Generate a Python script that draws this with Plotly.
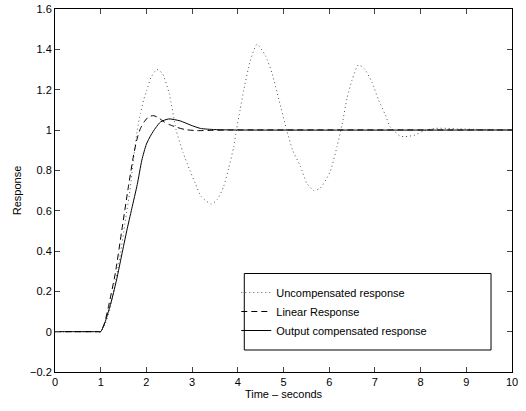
import plotly.graph_objects as go

# Uncompensated response (dotted)
t_unc = [0, 0.95, 1.0, 1.1, 1.2, 1.3, 1.42, 1.53, 1.64, 1.72, 1.8, 1.87, 1.94, 2.01, 2.1, 2.23,
         2.35, 2.5, 2.65, 2.8, 2.95, 3.07, 3.2, 3.42, 3.55, 3.69, 3.8, 3.91, 3.97, 4.05,
         4.13, 4.27, 4.42, 4.6, 4.75, 4.9, 5.07, 5.2, 5.37, 5.51, 5.66, 5.8, 6.02, 6.17,
         6.28, 6.39, 6.5, 6.64, 6.78, 6.93, 7.08, 7.23, 7.33, 7.41, 7.55, 7.66, 7.88,
         8.06, 8.32, 8.6, 8.8, 9.2, 9.6, 10.0]
y_unc = [0, 0, 0, 0.04, 0.11, 0.22, 0.37, 0.537, 0.70, 0.86, 1.0, 1.083, 1.15, 1.198, 1.26, 1.30,
         1.28, 1.18, 1.0, 0.89, 0.80, 0.736, 0.67, 0.633, 0.655, 0.72, 0.81, 0.917, 1.0, 1.1,
         1.198, 1.34, 1.425, 1.37, 1.28, 1.15, 1.0, 0.9, 0.82, 0.736, 0.70, 0.711, 0.793, 0.917,
         1.025, 1.157, 1.248, 1.323, 1.30, 1.24, 1.149, 1.074, 1.016, 0.997, 0.97, 0.967, 0.975,
         0.995, 1.008, 1.008, 1.006, 1.003, 1.001, 1.0]

# Linear response (dashed)
t_lin = [0, 0.95, 1.0, 1.08, 1.17, 1.32, 1.46, 1.6, 1.72, 1.8, 1.87, 1.95, 2.05, 2.16, 2.27,
         2.38, 2.5, 2.67, 2.85, 3.1, 3.4, 3.8, 10.0]
y_lin = [0, 0, 0, 0.04, 0.124, 0.29, 0.50, 0.71, 0.876, 0.96, 1.008, 1.04, 1.066, 1.071, 1.06,
         1.041, 1.027, 1.013, 1.002, 0.997, 0.998, 1.0, 1.0]

# Output compensated response (solid)
t_out = [0, 0.95, 1.0, 1.1, 1.24, 1.35, 1.46, 1.57, 1.68, 1.8, 1.9, 2.0, 2.1, 2.2, 2.31, 2.49,
         2.74, 2.96, 3.18, 3.5, 4.0, 10.0]
y_out = [0, 0, 0, 0.05, 0.157, 0.26, 0.38, 0.50, 0.61, 0.73, 0.85, 0.93, 0.975, 1.01, 1.04, 1.055,
         1.045, 1.025, 1.008, 1.002, 1.0, 1.0]

names = ["Uncompensated response", "Linear Response", "Output compensated response"]

x_ticks = list(range(0, 11))
y_ticks = [-0.2, 0, 0.2, 0.4, 0.6, 0.8, 1, 1.2, 1.4, 1.6]

fig = go.Figure()
fig.add_trace(go.Scatter(x=t_unc, y=y_unc, mode="lines", name=names[0],
                         line=dict(color="#555555", width=1, dash="1px,3px", shape="spline", smoothing=0.6)))
fig.add_trace(go.Scatter(x=t_lin, y=y_lin, mode="lines", name=names[1],
                         line=dict(color="black", width=1, dash="6px,4px", shape="spline", smoothing=0.6)))
fig.add_trace(go.Scatter(x=t_out, y=y_out, mode="lines", name=names[2],
                         line=dict(color="black", width=1, shape="spline", smoothing=0.6)))

L, R, T, B = 54.5, 14, 9, 39
W, H = 526, 411
pw, ph = W - L - R, H - T - B

def px(xp):
    return (xp - L) / pw

def py(yp):
    return (H - B - yp) / ph

fig.add_shape(type="rect", xref="paper", yref="paper",
              x0=px(244), x1=px(491), y0=py(350), y1=py(273.5),
              line=dict(color="black", width=1), fillcolor="white", layer="below")

font = "Liberation Sans, Arial, Helvetica, sans-serif"
fig.update_layout(
    width=W, height=H,
    margin=dict(l=L, r=R, t=T, b=B),
    plot_bgcolor="white", paper_bgcolor="white",
    font=dict(family=font, size=11, color="black"),
    showlegend=True,
    legend=dict(x=px(236), y=py(278), xanchor="left", yanchor="top",
                bgcolor="rgba(0,0,0,0)", borderwidth=0,
                font=dict(family=font, size=11, color="black"),
                tracegroupgap=0),
    xaxis=dict(range=[0, 10], tickvals=x_ticks, ticks="inside", ticklen=5,
               showline=True, linecolor="black", linewidth=1, mirror="allticks",
               showgrid=False, zeroline=False, automargin=False,
               title=dict(text="Time – seconds", standoff=2, font=dict(size=11))),
    yaxis=dict(range=[-0.2, 1.6], tickvals=y_ticks, ticks="inside", ticklen=5,
               showline=True, linecolor="black", linewidth=1, mirror="allticks",
               showgrid=False, zeroline=False, automargin=False,
               title=dict(text="Response", standoff=6, font=dict(size=11))),
)

fig.write_html("out.html", config={"displayModeBar": False},
               post_script="document.body.style.margin='0px';")
